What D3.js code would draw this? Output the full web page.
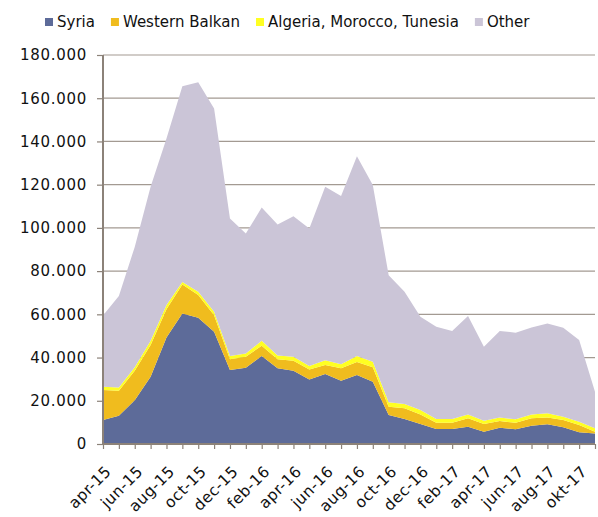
<!DOCTYPE html>
<html>
<head>
<meta charset="utf-8">
<script src="https://cdn.jsdelivr.net/npm/d3@7"></script>
<style>
  body { margin: 0; background: #fff; }
  text { font-family: Verdana, "DejaVu Sans", sans-serif; fill: #111; }
</style>
</head>
<body>
<svg id="chart" width="598" height="517"></svg>
<script>
// 月份（apr-15 .. nov-17）
const months = ['apr-15','mei-15','jun-15','jul-15','aug-15','sep-15','oct-15','nov-15','dec-15',
  'jan-16','feb-16','mrt-16','apr-16','mei-16','jun-16','jul-16','aug-16','sep-16','oct-16','nov-16','dec-16',
  'jan-17','feb-17','mrt-17','apr-17','mei-17','jun-17','jul-17','aug-17','sep-17','okt-17','nov-17'];

// 系列数值
const syria = [11100,13100,20300,31100,49300,60400,58400,51900,34200,35300,40700,35000,33900,29900,32400,29300,
  31900,28800,13400,11600,9200,6900,6900,8000,5700,7500,6800,8500,9100,7700,5400,4900];
const westernBalkan = [13900,11500,13600,14700,13000,13400,10500,7700,5000,5100,4800,4200,4600,4600,4100,5700,
  6000,6700,3800,4900,4500,2900,2900,3900,3500,3100,3000,3400,3200,3400,3400,800];
const amt = [1500,1600,1600,2000,2000,1200,1500,1600,1500,1500,2300,1800,1900,1600,2300,1900,
  2800,2600,2100,2000,2000,1800,1800,1800,1600,1700,1600,1800,1900,1500,1500,1600];
const other = [33000,42300,55700,71200,77100,90500,97000,94000,63600,55500,61600,60600,65000,63600,80200,77900,
  92500,81700,58800,51900,43200,42600,40700,45500,34200,40000,40100,40200,41600,41200,37800,16900];

const seriesNames = ['Syria', 'Western Balkan', 'Algeria, Morocco, Tunesia', 'Other'];
const seriesColors = ['#5d6b99', '#f0bc1e', '#ffff22', '#cbc5d7'];
const yTicks = [0, 20000, 40000, 60000, 80000, 100000, 120000, 140000, 160000, 180000];

const svg = d3.select('#chart');
const margin = { left: 103, right: 3, top: 55, bottom: 73 };
const width = 598 - margin.left - margin.right;
const height = 517 - margin.top - margin.bottom;

const rows = months.map((m, i) => ({
  month: m, s0: syria[i], s1: westernBalkan[i], s2: amt[i], s3: other[i]
}));
const keys = ['s0', 's1', 's2', 's3'];
const stacked = d3.stack().keys(keys)(rows);

const x = d3.scalePoint().domain(months).range([0, width]);
const y = d3.scaleLinear().domain([0, 180000]).range([height, 0]);

const g = svg.append('g').attr('transform', `translate(${margin.left},${margin.top})`);

// 网格线
g.append('g')
  .selectAll('line')
  .data(yTicks.slice(1))
  .enter().append('line')
  .attr('x1', 0).attr('x2', width)
  .attr('y1', d => y(d)).attr('y2', d => y(d))
  .attr('stroke', '#a39a92').attr('stroke-width', 1.2);

// 面积
const area = d3.area()
  .x(d => x(d.data.month))
  .y0(d => y(d[0]))
  .y1(d => y(d[1]));

g.append('g')
  .selectAll('path')
  .data(stacked)
  .enter().append('path')
  .attr('d', area)
  .attr('fill', (d, i) => seriesColors[i]);

// Y 轴
const fmt = d3.format(',');
const yAxis = d3.axisLeft(y)
  .tickValues(yTicks)
  .tickSize(6)
  .tickPadding(10)
  .tickFormat(d => fmt(d).replace(/,/g, '.'));

g.append('g')
  .call(yAxis)
  .call(a => {
    a.select('.domain').attr('stroke', '#8c8279').attr('stroke-width', 2).attr('d', `M0,0V${height}`);
    a.selectAll('.tick line').attr('stroke', '#8c8279').attr('stroke-width', 1.2);
    a.selectAll('.tick text')
      .attr('font-size', '15px')
      .attr('letter-spacing', '0.7px')
      .attr('fill', '#111');
  });

// X 轴
const xAxis = d3.axisBottom(x)
  .tickSize(5)
  .tickFormat((d, i) => i % 2 === 0 ? d : '');

g.append('g')
  .attr('transform', `translate(0,${height})`)
  .call(xAxis)
  .call(a => {
    a.select('.domain').attr('stroke', '#8c8279').attr('stroke-width', 2).attr('d', `M0,0H${width}`);
    a.selectAll('.tick line').attr('stroke', '#8c8279').attr('stroke-width', 1.2);
    a.selectAll('.tick text')
      .attr('font-size', '15.5px')
      .attr('letter-spacing', '0.4px')
      .attr('fill', '#111')
      .attr('text-anchor', 'end')
      .attr('dy', '0.35em')
      .attr('transform', 'translate(-1,19) rotate(-45)');
  });

// 图例
const legend = svg.append('g').attr('transform', 'translate(45,22)');
let lx = 0;
seriesNames.forEach((name, i) => {
  const item = legend.append('g').attr('transform', `translate(${lx},0)`);
  item.append('rect')
    .attr('x', 0).attr('y', -4)
    .attr('width', 8).attr('height', 8)
    .attr('fill', seriesColors[i]);
  const t = item.append('text')
    .attr('x', 12).attr('y', 0)
    .attr('dy', '0.35em')
    .attr('font-size', '15px')
    .text(name);
  lx += 12 + t.node().getComputedTextLength() + 16;
});
</script>
</body>
</html>
